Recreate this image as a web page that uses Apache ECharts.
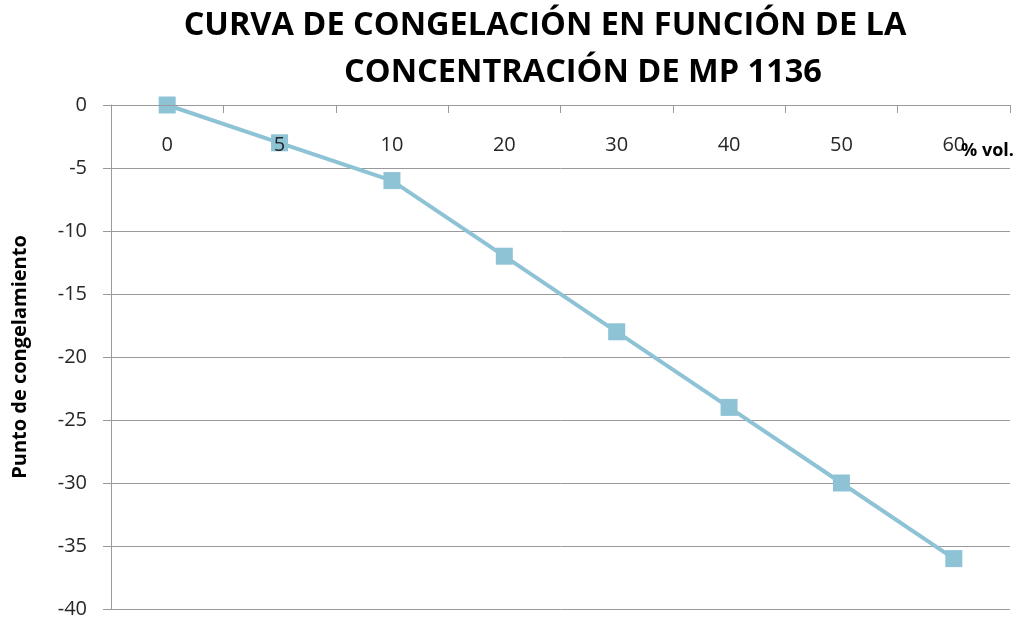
<!DOCTYPE html>
<html>
<head>
<meta charset="utf-8">
<script src="https://cdn.jsdelivr.net/npm/echarts@6/dist/echarts.min.js"></script>
<style>html,body{margin:0;padding:0;background:#fff}#c{width:1021px;height:618px}</style>
</head>
<body>
<div id="c"></div>
<script>
var categories = ['0', '5', '10', '20', '30', '40', '50', '60'];
var freezingPoint = [0, -3, -6, -12, -18, -24, -30, -36];
var titleLine1 = 'CURVA DE CONGELACIÓN EN FUNCIÓN DE LA';
var titleLine2 = 'CONCENTRACIÓN DE MP 1136';
var yAxisName = 'Punto de congelamiento';
var xAxisName = '% vol.';

var chart = echarts.init(document.getElementById('c'));
var lineColor = '#8EC3D6';
var gridColor = '#9A9A9A';
var labelColor = '#262626';
chart.setOption({
  animation: false,
  title: [
    {text: titleLine1, left: 540, top: 4, textAlign: 'center',
     textStyle: {fontFamily: 'Open Sans', fontWeight: 'bold', fontSize: 32.5, color: '#000'}},
    {text: titleLine2, left: 578, top: 51, textAlign: 'center',
     textStyle: {fontFamily: 'Open Sans', fontWeight: 'bold', fontSize: 32.5, color: '#000'}}
  ],
  graphic: [{
    type: 'text', left: 961, top: 142, z: 10,
    style: {text: xAxisName, fontFamily: 'Open Sans', fontWeight: 'bold', fontSize: 18, fill: '#000'}
  }],
  grid: {left: 111, right: 11, top: 105, bottom: 9, containLabel: false, outerBoundsMode: 'none'},
  xAxis: {
    type: 'category',
    position: 'top',
    z: 5,
    data: categories,
    boundaryGap: true,
    axisLine: {onZero: false, lineStyle: {color: gridColor, width: 1}},
    axisTick: {show: true, inside: true, length: 8, lineStyle: {color: gridColor}},
    axisLabel: {inside: true, margin: 30, fontFamily: 'Open Sans', fontSize: 20, color: labelColor},
    splitLine: {show: false}
  },
  yAxis: {
    type: 'value',
    min: -40, max: 0, interval: 5,
    name: yAxisName,
    nameLocation: 'middle',
    nameGap: 81,
    nameTextStyle: {fontFamily: 'Open Sans', fontWeight: 'bold', fontSize: 20, color: '#000'},
    axisLine: {show: true, lineStyle: {color: gridColor, width: 1}},
    axisTick: {show: true, length: 8, lineStyle: {color: gridColor}},
    axisLabel: {margin: 24, fontFamily: 'Open Sans', fontSize: 20, color: labelColor},
    splitLine: {show: true, lineStyle: {color: gridColor, width: 1}}
  },
  series: [{
    type: 'line',
    data: freezingPoint,
    symbol: 'rect',
    symbolSize: 17,
    showAllSymbol: true,
    itemStyle: {color: lineColor},
    lineStyle: {color: lineColor, width: 4}
  }]
});
</script>
</body>
</html>
